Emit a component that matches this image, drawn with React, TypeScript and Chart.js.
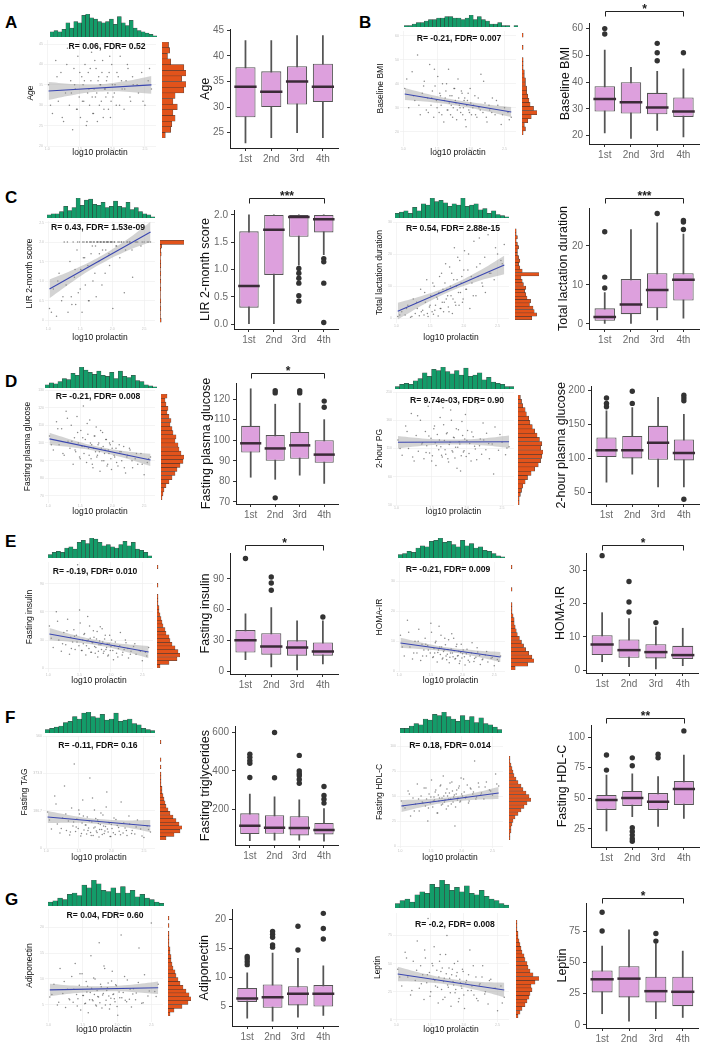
import React, { useEffect, useRef } from "react";
import { Chart, registerables } from "chart.js";

Chart.register(...registerables);

const FONT = '"Liberation Sans", Arial, Helvetica, sans-serif';
Chart.defaults.font.family = FONT;

// ---------- shared data ----------
const PROLACTIN_X = [1.02,1.08,1.13,1.17,1.21,1.25,1.28,1.31,1.34,1.36,1.39,1.41,1.43,1.45,1.47,1.49,1.51,1.53,1.55,1.56,1.58,1.6,1.62,1.63,1.65,1.67,1.68,1.7,1.72,1.74,1.75,1.77,1.79,1.81,1.83,1.85,1.87,1.89,1.91,1.93,1.95,1.97,1.99,2.01,2.04,2.06,2.09,2.12,2.15,2.18,2.21,2.24,2.28,2.32,2.36,2.4,2.45,2.5,2.55,2.6];
const PROLACTIN_X2 = [1.05,1.15,1.23,1.3,1.37,1.42,1.46,1.5,1.54,1.57,1.61,1.64,1.66,1.69,1.71,1.73,1.76,1.78,1.8,1.82,1.84,1.86,1.88,1.9,1.92,1.94,1.96,1.98,2.0,2.03,2.07,2.11,2.14,2.19,2.23,2.27,2.31,2.38,2.47,2.57];
const FIT_X = [1.02, 2.6];
const BAND_X = [1.02, 1.42, 1.81, 2.21, 2.6];
const QUARTILES = ["1st", "2nd", "3rd", "4th"];
const SCATTER_X_RANGE = [0.95, 2.67];

// ---------- Age ----------
const AGE_STAT = "R= 0.06, FDR= 0.52";
const AGE_Y = [35,28,41,31,38,26,33,44,30,36,24,39,34,29,42,32,27,37,35,31,40,25,33,38,30,36,43,28,34,32,39,26,37,35,31,41,29,34,36,33,38,27,40,32,35,30,37,42,34,29,36,39,31,35,44,33,38,30,36,34];
const AGE_Y2 = [30,37,27,40,33,35,29,38,31,36,26,34,39,32,28,41,33,36,30,35,38,27,34,32,37,29,42,31,35,33,38,30,36,34,40,32,37,35,31,39];
const AGE_FIT = [33.5, 35.0];
const AGE_BAND = [2.2,1.3,0.9,1.3,2.2];
const AGE_TOP = [4,5,4,6,11,7,12,11,17,18,15,14,12,11,12,14,10,16,11,9,13,7,5,4,3,2,1];
const AGE_SIDE = [3,8,9,12,10,14,10,12,20,22,18,22,20,8,5,7,6];
const AGE_LOW = [23,24,25,24];
const AGE_Q1 = [28,30,30.5,31];
const AGE_MED = [34,33,35,34];
const AGE_Q3 = [37.8,37,38,38.5];
const AGE_HIGH = [43,43,44,44];
const AGE_OUT = [[],[],[],[]];
const AGE_TICKS = [25,30,35,40,45];

// ---------- BMI ----------
const BMI_STAT = "R= -0.21, FDR= 0.007";
const BMI_Y = [38,30,45,33,52,27,36,41,29,34,48,31,37,26,39,33,43,28,35,31,40,24,34,37,29,46,32,27,35,30,38,33,25,42,31,28,36,30,34,22,33,29,38,27,31,35,26,30,44,28,32,24,29,34,27,31,23,30,28,26];
const BMI_Y2 = [42,35,31,39,28,34,46,30,36,27,33,40,29,35,31,26,38,32,29,34,30,37,27,33,25,31,36,28,32,30,27,34,29,41,26,31,28,33,27,25];
const BMI_FIT = [35.7, 28.2];
const BMI_BAND = [2.5,1.5,1.1,1.4,2.1];
const BMI_TOP = [1,1,2,3,3,4,5,5,6,6,7,7,6,6,5,6,8,5,7,5,4,2,2,3,1,1,0,1];
const BMI_SIDE = [1,3,2,5,8,13,10,7,6,5,4,4,3,3,2,2,1,1,1,0,0,1,0,0,1];
const BMI_LOW = [21,19,22,19.5];
const BMI_Q1 = [29,28.3,28,27];
const BMI_MED = [33.7,32.5,30.5,29];
const BMI_Q3 = [38.5,40,36,34.3];
const BMI_HIGH = [52,45.5,44,45];
const BMI_OUT = [[58,60],[],[48,51,54.5],[51]];
const BMI_TICKS = [20,30,40,50,60];

// ---------- LIR 2-month score ----------
const LIR_STAT = "R= 0.43, FDR= 1.53e-09";
const LIR_Y = [0.3,0.8,0.1,1.2,0.5,2.0,0.9,0.2,1.5,0.6,2.0,1.1,0.4,1.8,0.7,2.0,1.3,0.2,1.6,2.0,0.9,2.0,1.4,0.5,2.0,1.7,2.0,1.0,2.0,1.9,0.6,2.0,1.5,2.0,2.0,1.8,2.0,1.2,2.0,2.0,1.7,2.0,2.0,0.3,2.0,1.9,2.0,1.6,2.0,2.0,1.8,2.0,2.0,1.1,2.0,2.0,1.9,2.0,2.0,2.0];
const LIR_Y2 = [0.2,1.0,0.6,2.0,0.4,1.3,2.0,0.8,2.0,1.6,2.0,0.5,2.0,1.9,2.0,1.2,2.0,2.0,1.7,2.0,0.9,2.0,2.0,1.8,2.0,2.0,1.4,2.0,2.0,2.0,1.9,2.0,2.0,0.7,2.0,2.0,1.8,2.0,2.0,2.0];
const LIR_FIT = [0.8, 2.26];
const LIR_BAND = [0.24,0.14,0.1,0.14,0.26];
const LIR_TOP = [3,4,4,6,11,7,10,19,12,17,18,13,12,15,10,11,16,11,10,15,8,10,6,4,3,1];
const LIR_SIDE = [0,3,1,1,2,1,2,1,1,2,1,2,1,2,1,2,2,1,3,2,4,60,0,0,0,0,0];
const LIR_LOW = [0,0,1.08,1.27];
const LIR_Q1 = [0.3,0.9,1.6,1.68];
const LIR_MED = [0.7,1.73,1.96,1.92];
const LIR_Q3 = [1.7,2.0,2.0,2.0];
const LIR_HIGH = [2.0,2.0,2.0,2.0];
const LIR_OUT = [[],[],[1.02,0.93,0.84,0.75,0.52,0.42],[1.2,1.14,0.75,0.03]];
const LIR_TICKS = [0,0.5,1,1.5,2];
const LIR_TICK_LABELS = ["0.0","0.5","1.0","1.5","2.0"];

// ---------- Total lactation duration ----------
const TLD_STAT = "R= 0.54, FDR= 2.88e-15";
const TLD_Y = [0.5,2,1,4,0.3,6,1.5,3,0.8,9,2.5,1,5,12,0.5,3.5,7,2,1.2,10,4,6.5,0.7,8,3,14,5,2,11,6,9,3.5,16,7,1.5,12,5,10,19,4,8,13,6,21,9,15,3,11,24,7,13,17,10,8,26,14,12,20,18,23];
const TLD_Y2 = [1,3,0.5,5,2,8,1.5,4,11,2.5,6,13,3,9,5,17,7,2,10,14,6,22,4,12,8,18,11,5,15,9,20,13,7,16,25,11,19,14,22,17];
const TLD_FIT = [2.2, 16.6];
const TLD_BAND = [2.6,1.4,0.9,1.5,2.9];
const TLD_TOP = [4,5,6,4,9,6,12,11,17,14,15,13,10,12,11,17,10,11,12,7,8,4,6,3,2,1];
const TLD_SIDE = [0,14,18,16,15,12,13,10,9,8,9,7,6,5,20,6,4,3,4,3,2,2,3,2,1,2,1,1,0,0];
const TLD_LOW = [0,0,1,1.5];
const TLD_Q1 = [0.8,2.5,4,6];
const TLD_MED = [1.8,5,8.7,11.3];
const TLD_Q3 = [4,11.5,13,13];
const TLD_HIGH = [8,24.2,25.9,23];
const TLD_OUT = [[9.2,12,23.6],[],[28.3],[24.2,26.1,26.5]];
const TLD_TICKS = [0,10,20];

// ---------- Fasting plasma glucose ----------
const FPG_STAT = "R= -0.21, FDR= 0.008";
const FPG_Y = [104,96,112,99,108,93,118,101,97,110,88,103,95,115,100,92,107,98,121,94,102,89,105,97,113,91,99,86,104,95,109,93,100,84,97,106,90,96,102,88,94,99,85,101,92,97,87,95,90,98,83,93,96,86,91,88,94,82,89,92];
const FPG_Y2 = [99,108,94,114,101,96,106,91,103,98,111,93,100,88,97,104,92,99,95,107,90,98,94,102,87,96,100,91,97,93,89,99,95,86,92,97,90,94,88,91];
const FPG_FIT = [102.3, 90.4];
const FPG_BAND = [3.5,2,1.4,2,3.5];
const FPG_TOP = [3,5,4,6,9,8,14,12,20,17,15,13,16,12,11,15,9,16,11,10,12,7,6,3,2,1];
const FPG_SIDE = [1,2,3,5,8,11,14,16,19,22,23,20,18,17,14,15,12,11,9,10,8,6,7,5,4,6];
const FPG_LOW = [82,81,83,79];
const FPG_Q1 = [94,90,91,89];
const FPG_MED = [98.5,96,97.5,93];
const FPG_Q3 = [107,102.5,104,100];
const FPG_HIGH = [125,117.5,118,110];
const FPG_OUT = [[],[123,124,72],[123,124],[116,119]];
const FPG_TICKS = [70,80,90,100,110,120];

// ---------- 2-hour plasma glucose ----------
const PG2_STAT = "R= 9.74e-03, FDR= 0.90";
const PG2_Y = [125,98,150,110,172,88,133,105,160,118,92,140,115,185,102,128,97,145,120,80,135,108,165,113,95,152,124,100,138,86,117,178,106,130,93,145,112,122,70,158,104,127,96,142,119,88,131,109,190,115,100,125,137,92,118,148,107,121,99,113];
const PG2_Y2 = [110,140,95,168,120,103,132,88,150,115,125,98,182,108,136,92,121,160,104,129,112,75,143,118,97,133,106,170,124,101,139,114,90,127,155,108,119,65,135,111];
const PG2_FIT = [121, 122];
const PG2_BAND = [11,6,4.5,6,11];
const PG2_TOP = [2,4,5,4,7,9,14,11,17,16,19,15,13,16,12,18,11,12,14,8,10,6,5,4,2,2];
const PG2_SIDE = [1,1,2,3,4,6,8,11,14,17,19,20,21,19,20,18,16,14,12,10,9,7,6,4,3,2];
const PG2_LOW = [65,77,58,58];
const PG2_Q1 = [102,100,98,97];
const PG2_MED = [112,112,123,108];
const PG2_Q3 = [131,133,148,128];
const PG2_HIGH = [170,175,190,165];
const PG2_OUT = [[176,181,189],[181,199],[],[185,189,193,40]];
const PG2_TICKS = [50,100,150,200];

// ---------- Fasting insulin ----------
const INS_STAT = "R= -0.19, FDR= 0.010";
const INS_Y = [45,22,60,30,18,38,25,52,15,33,28,41,20,35,110,24,48,19,30,26,37,14,29,55,21,32,17,27,40,23,16,31,12,25,44,20,28,18,35,22,13,26,19,30,9,24,16,21,38,14,20,27,11,18,23,15,19,8,17,22];
const INS_Y2 = [32,50,26,40,21,34,28,62,19,36,24,30,45,17,27,33,22,39,18,29,25,42,16,31,20,26,14,35,23,19,28,12,24,17,30,21,15,26,18,13];
const INS_FIT = [36.4, 17.2];
const INS_BAND = [6.5,3.8,2.7,3.8,6.5];
const INS_TOP = [3,5,6,5,9,10,8,14,16,13,18,17,14,11,12,10,9,12,15,11,14,8,7,5,2];
const INS_SIDE = [3,12,20,23,21,18,15,13,12,9,8,6,5,4,3,2,2,1,1,1,0,0,1,0,0,0,0,1];
const INS_LOW = [11,4,1,7];
const INS_Q1 = [18,16,15,15];
const INS_MED = [30,24,23,19];
const INS_Q3 = [40,37,30,28];
const INS_HIGH = [56,62,49,49];
const INS_OUT = [[110],[79,86,92],[],[52.8]];
const INS_TICKS = [0,30,60,90];

// ---------- HOMA-IR ----------
const HOMA_STAT = "R= -0.21, FDR= 0.009";
const HOMA_Y = [12,5,17,8,4,10,6,14,3.5,9,7,11,5,8.5,34,6,13,4.5,7.5,6,10,3,7,15,5.5,8,4,6.5,11,5,3.8,7.2,2.8,6,12.5,4.8,6.8,4.2,9,5.2,2.5,6.2,4.4,7,2,5.8,3.6,5,9.5,3.2,4.6,6.4,2.2,4,5.4,3,4.3,1.8,3.9,5];
const HOMA_Y2 = [8,13,6,10,5,9,7,16,4.8,9.5,6.2,8,12,4.4,7,8.8,5.6,10.5,4.6,7.4,6,11,4,8.2,5,6.6,3.4,9,5.8,4.8,7.3,3,6,4.2,7.8,5.2,3.8,6.5,4.5,3.3];
const HOMA_FIT = [9.4, 4.7];
const HOMA_BAND = [1.7,1,0.7,1,1.7];
const HOMA_TOP = [3,4,6,5,9,11,10,15,16,18,14,15,12,10,16,11,13,9,10,7,6,4,2,1];
const HOMA_SIDE = [4,16,22,20,17,14,12,10,8,6,5,4,3,3,2,1,1,1,0,0,0,1,0,0,0,0,0,1];
const HOMA_LOW = [2.5,1,0.3,1.3];
const HOMA_Q1 = [4.5,3.7,3.5,3.3];
const HOMA_MED = [7.7,6,5.4,4.5];
const HOMA_Q3 = [10.5,9.2,7.8,7.3];
const HOMA_HIGH = [17.3,15.5,13,12.6];
const HOMA_OUT = [[34.5],[17.5,20.5,26.7],[14.3],[]];
const HOMA_TICKS = [0,10,20,30];

// ---------- Fasting triglycerides ----------
const TAG_STAT = "R= -0.11, FDR= 0.16";
const TAG_Y = [180,95,260,120,75,150,310,88,135,65,200,110,420,82,145,98,170,60,125,240,90,115,70,155,100,350,78,130,62,190,105,85,140,55,118,92,165,72,108,280,80,125,58,98,150,68,112,84,230,75,100,63,120,88,70,140,95,52,110,80];
const TAG_Y2 = [140,220,98,170,80,130,105,190,72,160,115,88,135,62,250,100,148,78,122,92,175,68,110,85,205,95,128,58,118,76,142,102,66,125,88,160,72,105,60,92];
const TAG_FIT = [155, 110];
const TAG_BAND = [30,17,12,17,30];
const TAG_TOP = [3,4,5,6,9,10,14,12,17,18,14,13,16,11,12,17,10,11,12,8,7,4,3,2];
const TAG_SIDE = [6,14,20,22,19,16,13,10,8,6,5,4,3,2,2,1,1,1,1,0,1,0,1,0,0,0,0,1];
const TAG_LOW = [38,40,40,35];
const TAG_Q1 = [72,73,65,70];
const TAG_MED = [115,105,103,93];
const TAG_Q3 = [180,170,165,130];
const TAG_HIGH = [280,265,250,205];
const TAG_OUT = [[366,440,454,471,487],[365,600],[336,356,375,386,400,481],[233,253,273,319]];
const TAG_TICKS = [200,400,600];

// ---------- Fasting HDL-C ----------
const HDL_STAT = "R= 0.18, FDR= 0.014";
const HDL_Y = [45,38,55,30,48,42,62,35,50,44,58,40,47,25,52,43,66,39,49,46,56,33,51,45,60,41,48,70,44,53,37,50,47,63,42,55,49,20,52,46,58,44,68,50,54,48,61,45,57,52,85,49,59,53,47,64,56,51,72,60];
const HDL_Y2 = [40,52,35,47,43,58,38,49,45,54,33,48,61,42,50,46,57,40,53,47,64,44,51,39,56,48,60,45,52,67,49,43,58,54,47,63,51,59,55,62];
const HDL_FIT = [40, 53];
const HDL_BAND = [6,3.5,2.5,3.5,6];
const HDL_TOP = [4,4,6,8,7,12,11,16,15,18,14,12,10,15,11,14,9,13,8,7,5,3];
const HDL_SIDE = [1,1,2,2,3,4,6,9,12,15,18,22,20,17,14,12,9,7,5,4,3,2,1,1];
const HDL_LOW = [23.4,35,27,33.7];
const HDL_Q1 = [40.5,43.8,40.5,44.6];
const HDL_MED = [48.6,50.3,47.3,57.6];
const HDL_Q3 = [52.7,56,54.3,64.1];
const HDL_HIGH = [69,70,67.7,85.3];
const HDL_OUT = [[73,85.3],[76.6,83,26,23,20,17,15],[83.1,85.9],[105]];
const HDL_TICKS = [25,50,75,100];

// ---------- Adiponectin ----------
const ADI_STAT = "R= 0.04, FDR= 0.60";
const ADI_Y = [6.5,9,5,12,7.2,4.5,8,6,10.5,5.5,13,7,6.2,8.8,4,11,6.8,5.2,9.5,7.5,3.5,6,14.5,8.2,5.8,7,10,4.8,6.6,17,5.4,8.5,6.9,12.5,5,7.8,9.2,4.2,6.3,11.5,7.1,5.6,8.7,3,6.4,18.5,7.4,5.9,9.8,6.1,4.6,8.1,7.3,16,5.3,10.8,6.7,20.8,7.6,9];
const ADI_Y2 = [7,5.5,9.5,6.2,8,4.8,11,6.8,5.3,8.6,7.4,6,10.2,5,7.8,6.5,9,4.4,7.2,12,5.9,8.3,6.7,5.1,9.6,7,6.2,8.9,4.7,7.5,6.4,10.5,5.6,8,7.1,6,9.3,5.4,7.7,6.6];
const ADI_FIT = [7.9, 8.3];
const ADI_BAND = [1.2,0.7,0.5,0.7,1.2];
const ADI_TOP = [3,4,6,5,9,10,8,16,14,20,17,12,11,14,10,15,10,12,7,9,6,5,3,2];
const ADI_SIDE = [2,6,14,20,23,21,18,15,12,10,8,7,5,4,3,3,2,2,1,1,1,1,0,1,0,1];
const ADI_LOW = [3,2.5,3.2,3.5];
const ADI_Q1 = [5.8,4.8,5.2,5];
const ADI_MED = [6.4,6.6,7.2,7.2];
const ADI_Q3 = [8.2,8.8,8.5,8.7];
const ADI_HIGH = [10.8,14.2,13.3,12];
const ADI_OUT = [[12.2,12.7,13.2,13.6],[15.2,15.6,16.9,17.4,17.9],[14.7,18.8],[16.6,18.4,21]];
const ADI_TICKS = [5,10,15,20];

// ---------- Leptin ----------
const LEP_STAT = "R= -0.2, FDR= 0.008";
const LEP_Y = [45,30,60,38,22,52,35,70,28,48,40,18,55,33,90,42,25,50,36,65,30,44,15,38,58,27,46,34,20,41,75,29,37,12,45,31,24,39,52,19,33,28,43,10,35,26,62,30,22,38,17,32,48,25,14,36,28,8,30,20];
const LEP_Y2 = [38,55,26,44,32,62,40,21,48,35,29,52,43,18,37,58,31,46,24,40,34,50,27,42,16,36,30,45,22,33,40,26,48,19,31,38,23,35,28,15];
const LEP_FIT = [40.7, 26.5];
const LEP_BAND = [6.5,3.8,2.7,3.8,6.5];
const LEP_TOP = [3,5,6,4,9,11,10,16,14,19,16,12,14,11,15,10,9,12,8,6,5,3,2];
const LEP_SIDE = [2,4,6,9,11,13,14,16,15,19,23,17,14,12,11,9,8,6,5,4,3,2,2,1,1,1];
const LEP_LOW = [9,3,5,6];
const LEP_Q1 = [26,22,18,15];
const LEP_MED = [36.5,37,27,26.5];
const LEP_Q3 = [43.5,47,38.5,38.5];
const LEP_HIGH = [63,76,65,59];
const LEP_OUT = [[75,90],[],[67,73],[]];
const LEP_TICKS = [0,25,50,75];

// ---------- panels (data refs + layout) ----------
const PANELS: any[] = [
  { v: { stat: AGE_STAT, sTitle: "Age", y: AGE_Y, y2: AGE_Y2, fit: AGE_FIT, band: AGE_BAND, top: AGE_TOP, side: AGE_SIDE, yMin: 20, yMax: 46, step: 5,
         bTitle: "Age", low: AGE_LOW, q1: AGE_Q1, med: AGE_MED, q3: AGE_Q3, high: AGE_HIGH, out: AGE_OUT, ticks: AGE_TICKS, labels: AGE_TICKS.map(String), bMin: 22.0, bMax: 45.15, stars: "" },
    s: { l: 44, t: 40, r: 158, b: 146, yt: 31, xt: 153, rx: 107, ry: 47, top: [50, 157, 14, 37], side: [162, 186, 42, 138] },
    g: { ax: 230, at: 26, ar: 350, ab: 148, tx: 205, by: 0 } },
  { v: { stat: BMI_STAT, sTitle: "Baseline BMI", y: BMI_Y, y2: BMI_Y2, fit: BMI_FIT, band: BMI_BAND, top: BMI_TOP, side: BMI_SIDE, yMin: 14, yMax: 62, step: 10,
         bTitle: "Baseline BMI", low: BMI_LOW, q1: BMI_Q1, med: BMI_MED, q3: BMI_Q3, high: BMI_HIGH, out: BMI_OUT, ticks: BMI_TICKS, labels: BMI_TICKS.map(String), bMin: 16.9, bMax: 62.1, stars: "*" },
    s: { l: 400, t: 31, r: 518, b: 146, yt: 381, xt: 153, rx: 459, ry: 39, top: [404, 518, 15, 27], side: [522, 537, 33, 135] },
    g: { ax: 589, at: 23, ar: 711, ab: 144, tx: 565, by: 11 } },
  { v: { stat: LIR_STAT, sTitle: "LIR 2-month score", y: LIR_Y, y2: LIR_Y2, fit: LIR_FIT, band: LIR_BAND, top: LIR_TOP, side: LIR_SIDE, yMin: -0.15, yMax: 2.54, step: 0.5,
         bTitle: "LIR 2-month score", low: LIR_LOW, q1: LIR_Q1, med: LIR_MED, q3: LIR_Q3, high: LIR_HIGH, out: LIR_OUT, ticks: LIR_TICKS, labels: LIR_TICK_LABELS, bMin: -0.09, bMax: 2.09, stars: "***" },
    s: { l: 45, t: 221, r: 157, b: 326, yt: 30, xt: 338, rx: 98, ry: 228, top: [47, 155, 198, 218], side: [160, 184, 221, 326] },
    g: { ax: 234, at: 210, ar: 350, ab: 329, tx: 205, by: 198 } },
  { v: { stat: TLD_STAT, sTitle: "Total lactation duration", y: TLD_Y, y2: TLD_Y2, fit: TLD_FIT, band: TLD_BAND, top: TLD_TOP, side: TLD_SIDE, yMin: -1.5, yMax: 30, step: 10,
         bTitle: "Total lactation duration", low: TLD_LOW, q1: TLD_Q1, med: TLD_MED, q3: TLD_Q3, high: TLD_HIGH, out: TLD_OUT, ticks: TLD_TICKS, labels: TLD_TICKS.map(String), bMin: -1.3, bMax: 29.7, stars: "***" },
    s: { l: 393, t: 222, r: 511, b: 323, yt: 380, xt: 338, rx: 453, ry: 229, top: [395, 509, 198, 218], side: [515, 539, 222, 323] },
    g: { ax: 589, at: 208, ar: 711, ab: 329, tx: 563, by: 198 } },
  { v: { stat: FPG_STAT, sTitle: "Fasting plasma glucose", y: FPG_Y, y2: FPG_Y2, fit: FPG_FIT, band: FPG_BAND, top: FPG_TOP, side: FPG_SIDE, yMin: 66, yMax: 130, step: 10,
         bTitle: "Fasting plasma glucose", low: FPG_LOW, q1: FPG_Q1, med: FPG_MED, q3: FPG_Q3, high: FPG_HIGH, out: FPG_OUT, ticks: FPG_TICKS, labels: FPG_TICKS.map(String), bMin: 69, bMax: 127.8, stars: "*" },
    s: { l: 45, t: 390, r: 157, b: 503, yt: 28, xt: 512, rx: 98, ry: 397, top: [45, 157, 367, 388], side: [161, 184, 394, 500] },
    g: { ax: 236, at: 383, ar: 350, ab: 504, tx: 206, by: 373 } },
  { v: { stat: PG2_STAT, sTitle: "2-hour PG", y: PG2_Y, y2: PG2_Y2, fit: PG2_FIT, band: PG2_BAND, top: PG2_TOP, side: PG2_SIDE, yMin: 10, yMax: 210, step: 50,
         bTitle: "2-hour plasma glucose", low: PG2_LOW, q1: PG2_Q1, med: PG2_MED, q3: PG2_Q3, high: PG2_HIGH, out: PG2_OUT, ticks: PG2_TICKS, labels: PG2_TICKS.map(String), bMin: 32.9, bMax: 205.7, stars: "" },
    s: { l: 393, t: 392, r: 516, b: 505, yt: 380, xt: 512, rx: 457, ry: 401, top: [395, 514, 367, 389], side: [518, 543, 395, 505] },
    g: { ax: 591, at: 383, ar: 711, ab: 504, tx: 561, by: 0 } },
  { v: { stat: INS_STAT, sTitle: "Fasting insulin", y: INS_Y, y2: INS_Y2, fit: INS_FIT, band: INS_BAND, top: INS_TOP, side: INS_SIDE, yMin: -4, yMax: 113, step: 30,
         bTitle: "Fasting insulin", low: INS_LOW, q1: INS_Q1, med: INS_MED, q3: INS_Q3, high: INS_HIGH, out: INS_OUT, ticks: INS_TICKS, labels: INS_TICKS.map(String), bMin: -2.9, bMax: 115.4, stars: "*" },
    s: { l: 45, t: 562, r: 155, b: 672, yt: 30, xt: 681, rx: 95, ry: 572, top: [48, 152, 538, 558], side: [157, 180, 565, 668] },
    g: { ax: 230, at: 553, ar: 350, ab: 674, tx: 205, by: 545 } },
  { v: { stat: HOMA_STAT, sTitle: "HOMA-IR", y: HOMA_Y, y2: HOMA_Y2, fit: HOMA_FIT, band: HOMA_BAND, top: HOMA_TOP, side: HOMA_SIDE, yMin: -0.3, yMax: 36.4, step: 10,
         bTitle: "HOMA-IR", low: HOMA_LOW, q1: HOMA_Q1, med: HOMA_MED, q3: HOMA_Q3, high: HOMA_HIGH, out: HOMA_OUT, ticks: HOMA_TICKS, labels: HOMA_TICKS.map(String), bMin: -0.9, bMax: 35.3, stars: "*" },
    s: { l: 396, t: 562, r: 507, b: 672, yt: 380, xt: 681, rx: 448, ry: 570, top: [398, 505, 538, 558], side: [511, 534, 565, 670] },
    g: { ax: 586, at: 553, ar: 711, ab: 673, tx: 560, by: 545 } },
  { v: { stat: TAG_STAT, sTitle: "Fasting TAG", y: TAG_Y, y2: TAG_Y2, fit: TAG_FIT, band: TAG_BAND, top: TAG_TOP, side: TAG_SIDE, yMin: 0, yMax: 560, step: 200,
         bTitle: "Fasting triglycerides", low: TAG_LOW, q1: TAG_Q1, med: TAG_MED, q3: TAG_Q3, high: TAG_HIGH, out: TAG_OUT, ticks: TAG_TICKS, labels: TAG_TICKS.map(String), bMin: 15, bMax: 633, stars: "" },
    s: { l: 43, t: 736, r: 157, b: 848, yt: 25, xt: 858, rx: 98, ry: 746, top: [45, 155, 712, 733], side: [160, 182, 740, 840] },
    g: { ax: 235, at: 723, ar: 350, ab: 845, tx: 205, by: 0 } },
  { v: { stat: HDL_STAT, sTitle: "Fasting HDL-C", y: HDL_Y, y2: HDL_Y2, fit: HDL_FIT, band: HDL_BAND, top: HDL_TOP, side: HDL_SIDE, yMin: -2, yMax: 110, step: 25,
         bTitle: "Fasting HDL-C", low: HDL_LOW, q1: HDL_Q1, med: HDL_MED, q3: HDL_Q3, high: HDL_HIGH, out: HDL_OUT, ticks: HDL_TICKS, labels: HDL_TICKS.map(String), bMin: 10.3, bMax: 109.8, stars: "**" },
    s: { l: 397, t: 736, r: 505, b: 848, yt: 380, xt: 858, rx: 450, ry: 746, top: [400, 502, 712, 733], side: [509, 531, 756, 840] },
    g: { ax: 591, at: 725, ar: 711, ab: 847, tx: 562, by: 718 } },
  { v: { stat: ADI_STAT, sTitle: "Adiponectin", y: ADI_Y, y2: ADI_Y2, fit: ADI_FIT, band: ADI_BAND, top: ADI_TOP, side: ADI_SIDE, yMin: 1.7, yMax: 23.5, step: 5,
         bTitle: "Adiponectin", low: ADI_LOW, q1: ADI_Q1, med: ADI_MED, q3: ADI_Q3, high: ADI_HIGH, out: ADI_OUT, ticks: ADI_TICKS, labels: ADI_TICKS.map(String), bMin: 1.67, bMax: 21.67, stars: "" },
    s: { l: 45, t: 909, r: 165, b: 1022, yt: 30, xt: 1030, rx: 105, ry: 916, top: [48, 164, 880, 906], side: [168, 191, 916, 1016] },
    g: { ax: 232, at: 906, ar: 350, ab: 1026, tx: 204, by: 0 } },
  { v: { stat: LEP_STAT, sTitle: "Leptin", y: LEP_Y, y2: LEP_Y2, fit: LEP_FIT, band: LEP_BAND, top: LEP_TOP, side: LEP_SIDE, yMin: -2, yMax: 95, step: 25,
         bTitle: "Leptin", low: LEP_LOW, q1: LEP_Q1, med: LEP_MED, q3: LEP_Q3, high: LEP_HIGH, out: LEP_OUT, ticks: LEP_TICKS, labels: LEP_TICKS.map(String), bMin: -2.4, bMax: 97.4, stars: "*" },
    s: { l: 393, t: 913, r: 511, b: 1022, yt: 378, xt: 1030, rx: 455, ry: 925, top: [395, 509, 880, 908], side: [516, 539, 920, 1018] },
    g: { ax: 586, at: 903, ar: 711, ab: 1028, tx: 562, by: 898 } },
];

const LETTERS = [
  { t: "A", x: 12, y: 23 }, { t: "B", x: 366, y: 23 }, { t: "C", x: 12, y: 198 }, { t: "D", x: 12, y: 382 },
  { t: "E", x: 12, y: 542 }, { t: "F", x: 12, y: 718 }, { t: "G", x: 12, y: 900 },
];

const BASE_OPTS = {
  responsive: false,
  maintainAspectRatio: false,
  animation: false,
  devicePixelRatio: 1,
  events: [],
};
const NO_PLUGINS = { legend: { display: false }, tooltip: { enabled: false } };

// ---------- chart spec builders ----------
function scatterSpec(v: any, s: any) {
  const lh = 8.5 * 1.2;
  const cl = Math.round(s.yt - lh / 2);
  const ct = s.t - 4;
  const cr = s.r + 2;
  const cb = Math.round(s.xt + lh / 2);
  const yW = s.l - cl;
  const xH = cb - s.b;
  const slope = (v.fit[1] - v.fit[0]) / (FIT_X[1] - FIT_X[0]);
  const fitAt = (x: number) => v.fit[0] + slope * (x - FIT_X[0]);
  const tickStyle = { font: { size: 3.5, family: FONT }, color: "#c4c4c4", padding: 1, includeBounds: false, maxRotation: 0, autoSkip: false };
  const grid = { color: "#ededed", lineWidth: 0.6, drawTicks: false };
  const points = [
    ...PROLACTIN_X.map((x, i) => ({ x, y: v.y[i] })),
    ...PROLACTIN_X2.map((x, i) => ({ x, y: v.y2[i] })),
  ];
  const build = () => ({
    type: "scatter",
    data: {
      datasets: [
        { type: "line", data: FIT_X.map((x, i) => ({ x, y: v.fit[i] })), borderColor: "#3b47b0", borderWidth: 1.1, pointRadius: 0, fill: false },
        { type: "line", data: BAND_X.map((x, i) => ({ x, y: fitAt(x) + v.band[i] })), borderColor: "rgba(0,0,0,0)", borderWidth: 0, pointRadius: 0, tension: 0.4, fill: "+1", backgroundColor: "rgba(150,150,150,0.42)" },
        { type: "line", data: BAND_X.map((x, i) => ({ x, y: fitAt(x) - v.band[i] })), borderColor: "rgba(0,0,0,0)", borderWidth: 0, pointRadius: 0, tension: 0.4, fill: false },
        { type: "scatter", data: points, pointRadius: 0.75, pointBackgroundColor: "rgba(55,55,55,0.6)", backgroundColor: "rgba(55,55,55,0.6)", pointBorderWidth: 0, borderWidth: 0 },
      ],
    },
    options: {
      ...BASE_OPTS,
      layout: { padding: { top: 4, right: 2, left: 0, bottom: 0 } },
      plugins: NO_PLUGINS,
      scales: {
        x: {
          type: "linear", min: SCATTER_X_RANGE[0], max: SCATTER_X_RANGE[1],
          afterFit: (sc: any) => { sc.height = xH; },
          ticks: { ...tickStyle, stepSize: 0.5 }, grid, border: { display: false },
          title: { display: true, text: "log10 prolactin", font: { size: 8.5, family: FONT }, color: "#111", padding: 0 },
        },
        y: {
          type: "linear", min: v.yMin, max: v.yMax,
          afterFit: (sc: any) => { sc.width = yW; },
          ticks: { ...tickStyle, stepSize: v.step }, grid, border: { display: false },
          title: { display: true, text: v.sTitle, font: { size: 8.5, family: FONT }, color: "#111", padding: 0 },
        },
      },
    },
    plugins: [{
      id: "statText",
      afterDatasetsDraw(chart: any) {
        const ctx = chart.ctx;
        ctx.save();
        ctx.font = `bold 8.6px ${FONT}`;
        ctx.fillStyle = "#111";
        ctx.textAlign = "center";
        ctx.textBaseline = "middle";
        ctx.fillText(v.stat, s.rx - cl, s.ry - ct);
        ctx.restore();
      },
    }],
  });
  return { box: [cl, ct, cr - cl, cb - ct], build };
}

function boxSpec(v: any, g: any) {
  const titleSize = 12.5;
  const lh = titleSize * 1.2;
  const cl = Math.round(g.tx - lh / 2);
  const ct = v.stars ? g.by - 14 : g.at - 10;
  const cr = Math.min(713, g.ar + 2);
  const cb = g.ab + 20;
  const yW = g.ax - cl;
  const xH = cb - g.ab;
  const spacing = (g.ar - g.ax) / 4.2;
  const boxW = spacing * 0.78;
  const outliers: any[] = [];
  v.out.forEach((arr: number[], gi: number) => arr.forEach((val) => outliers.push({ x: gi + 1, y: val })));
  const axisGrid = { display: true, drawOnChartArea: false, drawTicks: true, tickLength: 3, color: "#333", lineWidth: 1 };
  const axisBorder = { display: true, color: "#222", width: 1 };
  const build = () => ({
    type: "bar",
    data: {
      datasets: [
        { type: "scatter", data: outliers, pointRadius: 2.7, pointBackgroundColor: "#333", backgroundColor: "#333", pointBorderWidth: 0, borderWidth: 0 },
        { type: "scatter", data: v.med.map((m: number, i: number) => ({ x: i + 1, y: m })), pointStyle: "line", pointRadius: boxW / 2, pointBorderColor: "#3b2b38", borderColor: "#3b2b38", pointBorderWidth: 2.5, borderWidth: 2.5 },
        { type: "bar", data: v.q1.map((q: number, i: number) => ({ x: i + 1, y: [q, v.q3[i]] })), backgroundColor: "#dda0dd", borderColor: "#555", borderWidth: 1.1, borderSkipped: false, grouped: false, barPercentage: 0.78, categoryPercentage: 1 },
        { type: "bar", data: v.low.map((l: number, i: number) => ({ x: i + 1, y: [l, v.high[i]] })), backgroundColor: "#555", borderWidth: 0, grouped: false, barThickness: 1.1 },
      ],
    },
    options: {
      ...BASE_OPTS,
      layout: { padding: { top: g.at - ct, right: cr - g.ar, left: 0, bottom: 0 } },
      plugins: NO_PLUGINS,
      scales: {
        x: {
          type: "linear", min: 0.4, max: 4.6, offset: false,
          afterBuildTicks: (sc: any) => { sc.ticks = [1, 2, 3, 4].map((value) => ({ value })); },
          afterFit: (sc: any) => { sc.height = xH; },
          ticks: { callback: (val: any) => QUARTILES[Math.round(val) - 1] ?? "", font: { size: 10, family: FONT }, color: "#6a6a6a", padding: 2, maxRotation: 0, autoSkip: false },
          grid: { ...axisGrid, offset: false }, border: axisBorder,
        },
        y: {
          type: "linear", min: v.bMin, max: v.bMax,
          afterBuildTicks: (sc: any) => { sc.ticks = v.ticks.map((value: number) => ({ value })); },
          afterFit: (sc: any) => { sc.width = yW; },
          ticks: { callback: (val: any) => { const i = v.ticks.indexOf(val); return i >= 0 ? v.labels[i] : ""; }, font: { size: 10, family: FONT }, color: "#6a6a6a", padding: 3, autoSkip: false },
          grid: axisGrid, border: axisBorder,
          title: { display: true, text: v.bTitle, font: { size: titleSize, family: FONT }, color: "#111", padding: 0 },
        },
      },
    },
    plugins: [{
      id: "bracket",
      afterDraw(chart: any) {
        if (!v.stars) return;
        const xs = chart.scales.x;
        const x1 = Math.round(xs.getPixelForValue(1)) + 0.5;
        const x2 = Math.round(xs.getPixelForValue(4)) + 0.5;
        const y = Math.round(g.by - ct) + 0.5;
        const ctx = chart.ctx;
        ctx.save();
        ctx.strokeStyle = "#222";
        ctx.lineWidth = 1;
        ctx.beginPath();
        ctx.moveTo(x1, y + 5);
        ctx.lineTo(x1, y);
        ctx.lineTo(x2, y);
        ctx.lineTo(x2, y + 5);
        ctx.stroke();
        ctx.font = `bold 12px ${FONT}`;
        ctx.fillStyle = "#222";
        ctx.textAlign = "center";
        ctx.textBaseline = "alphabetic";
        ctx.fillText(v.stars, (x1 + x2) / 2, y + 1.5);
        ctx.restore();
      },
    }],
  });
  return { box: [cl, ct, cr - cl, cb - ct], build };
}

function histSpec(counts: number[], rect: number[], horizontal: boolean) {
  const [l, r, t, b] = rect;
  const max = Math.max(...counts);
  const build = () => ({
    type: "bar",
    data: {
      labels: counts.map((_, i) => String(i)),
      datasets: [{
        data: counts,
        backgroundColor: horizontal ? "#e2531b" : "#139c69",
        borderColor: "rgba(35,35,35,0.85)",
        borderWidth: 0.5,
        barPercentage: 1,
        categoryPercentage: 1,
      }],
    },
    options: {
      ...BASE_OPTS,
      indexAxis: horizontal ? "y" : "x",
      layout: { padding: 0 },
      plugins: NO_PLUGINS,
      scales: horizontal
        ? { y: { display: false, reverse: true }, x: { display: false, min: 0, max } }
        : { x: { display: false }, y: { display: false, min: 0, max } },
    },
  });
  return { box: [l, t, r - l, b - t], build };
}

// ---------- components ----------
function ChartCanvas({ spec }: any) {
  const ref = useRef<HTMLCanvasElement | null>(null);
  useEffect(() => {
    if (!ref.current) return;
    const chart = new Chart(ref.current, spec.build());
    return () => chart.destroy();
  }, []);
  const [l, t, w, h] = spec.box.map((n: number) => Math.round(n));
  return (
    <canvas ref={ref} width={w} height={h}
      style={{ position: "absolute", left: l, top: t, width: w, height: h }} />
  );
}

function Pair({ p }: any) {
  return (
    <>
      <ChartCanvas spec={histSpec(p.v.top, p.s.top, false)} />
      <ChartCanvas spec={histSpec(p.v.side, p.s.side, true)} />
      <ChartCanvas spec={scatterSpec(p.v, p.s)} />
      <ChartCanvas spec={boxSpec(p.v, p.g)} />
    </>
  );
}

export default function App() {
  return (
    <div style={{ position: "absolute", left: 0, top: 0, width: 713, height: 1042, background: "#fff", overflow: "hidden", fontFamily: FONT }}>
      {LETTERS.map((L) => (
        <div key={L.t} style={{ position: "absolute", left: L.x - 7, top: L.y - 10, fontSize: 17, fontWeight: "bold", lineHeight: "20px", color: "#000" }}>{L.t}</div>
      ))}
      {PANELS.map((p, i) => <Pair key={i} p={p} />)}
    </div>
  );
}
